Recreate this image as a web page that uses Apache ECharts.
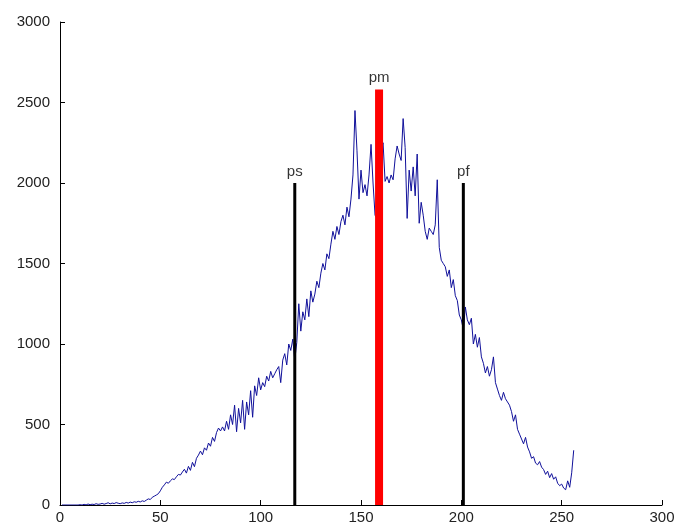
<!DOCTYPE html>
<html>
<head>
<meta charset="utf-8">
<title>histogram</title>
<script src="https://cdn.jsdelivr.net/npm/echarts@6/dist/echarts.min.js"></script>
<style>
  html, body { margin: 0; padding: 0; background: #fff; }
  #chart { width: 678px; height: 529px; }
</style>
</head>
<body>
<div id="chart"></div>
<script>
// histogram counts for gray levels 1..256
var histCounts = [
  0, 0, 0, 0, 0, 0, 0, 0, 0, 2,
  0, 4, 1, 6, 2, 5, 3, 8, 4, 6,
  10, 5, 9, 14, 7, 12, 9, 15, 11, 8,
  13, 10, 16, 12, 18, 14, 20, 17, 23, 19,
  26, 22, 30, 38, 34, 48, 55, 62, 70, 88,
  110, 125, 142, 135, 150, 162, 158, 175, 190, 186,
  205, 222, 198, 240, 215, 265, 238, 290, 310, 335,
  312, 355, 340, 385, 365, 420, 395, 450, 478, 460,
  485, 460, 520, 470, 560, 500, 620, 455, 600, 510,
  650, 470, 640, 560, 710, 545, 740, 680, 790, 715,
  760, 735, 800, 770, 830, 790, 815, 840, 860, 760,
  900, 940, 870, 1000, 960, 1030, 900, 1010, 1250, 1080,
  1200, 1150, 1280, 1170, 1330, 1260, 1310, 1390, 1350, 1440,
  1500, 1460, 1560, 1530, 1620, 1700, 1650, 1730, 1680, 1760,
  1800, 1740, 1850, 1790, 1900, 2050, 2450, 2200, 1900, 2080,
  1940, 1990, 1920, 2050, 2240, 2000, 1800, 1780, 2100, 2200,
  2250, 2010, 2040, 2000, 2050, 2020, 2150, 2230, 2180, 2140,
  2400, 2220, 1780, 2080, 1950, 2100, 1920, 2180, 1750, 1880,
  1800, 1700, 1650, 1720, 1700, 1680, 1740, 2020, 1600, 1520,
  1500, 1480, 1420, 1460, 1350, 1400, 1300, 1270, 1180, 1150,
  1090, 1230, 1150, 1120, 1160, 1000, 1060, 980, 1040, 920,
  880, 820, 860, 800, 840, 920, 760, 720, 680, 650,
  700, 660, 640, 620, 580, 520, 560, 470, 440, 410,
  380, 420, 360, 330, 290, 300, 260, 250, 270, 235,
  220, 190, 210, 170, 195, 160, 175, 135, 120, 130,
  105, 95, 150, 110, 200, 340
];

// marker lines ps / pm / pf
var markerNames = ['ps', 'pm', 'pf'];
var markerX = [117, 159, 201];
var markerHeights = [2000, 2580, 2000];
var markerColors = ['#000000', '#ff0000', '#000000'];
var markerWidths = [3, 8, 3];

var xTicks = [0, 300, 50];   // min, max, interval
var yTicks = [0, 3000, 500];

var histData = [];
for (var i = 0; i < histCounts.length; i++) {
  histData.push([i + 1, histCounts[i]]);
}

var series = [{
  name: 'hist',
  type: 'line',
  data: histData,
  showSymbol: false,
  lineStyle: { color: '#10109a', width: 1 },
  z: 2
}];

var labelPoints = [];
for (var k = 0; k < markerNames.length; k++) {
  series.push({
    name: markerNames[k],
    type: 'line',
    showSymbol: false,
    symbol: 'none',
    lineStyle: { color: markerColors[k], width: markerWidths[k] },
    data: [[markerX[k], 0], [markerX[k], markerHeights[k]]],
    z: 3
  });
  labelPoints.push({ value: [markerX[k], markerHeights[k]], name: markerNames[k] });
}

// text labels above each marker line
series.push({
  name: 'labels',
  type: 'scatter',
  symbol: 'circle',
  symbolSize: 2,
  itemStyle: { color: 'rgba(0,0,0,0)' },
  data: labelPoints,
  label: {
    show: true,
    position: 'top',
    distance: 3,
    formatter: '{b}',
    color: '#000',
    fontSize: 15,
    fontFamily: 'Liberation Sans'
  },
  z: 4
});

var axisText = { color: '#222', fontSize: 15, fontFamily: 'Liberation Sans' };

var option = {
  animation: false,
  backgroundColor: '#fff',
  grid: { left: 60, right: 16, top: 22, bottom: 24 },
  xAxis: {
    type: 'value',
    min: xTicks[0],
    max: xTicks[1],
    interval: xTicks[2],
    axisLine: { lineStyle: { color: '#000', width: 1 } },
    axisTick: { inside: true, length: 5, lineStyle: { color: '#000' } },
    axisLabel: Object.assign({ margin: 5, formatter: '{value}' }, axisText),
    splitLine: { show: false }
  },
  yAxis: {
    type: 'value',
    min: yTicks[0],
    max: yTicks[1],
    interval: yTicks[2],
    axisLine: { show: true, lineStyle: { color: '#000', width: 1 } },
    axisTick: { show: true, inside: true, length: 5, lineStyle: { color: '#000' } },
    axisLabel: Object.assign({ margin: 10, formatter: function (v) { return String(v); } }, axisText),
    splitLine: { show: false }
  },
  series: series
};

var myChart = echarts.init(document.getElementById('chart'));
myChart.setOption(option);
</script>
</body>
</html>
